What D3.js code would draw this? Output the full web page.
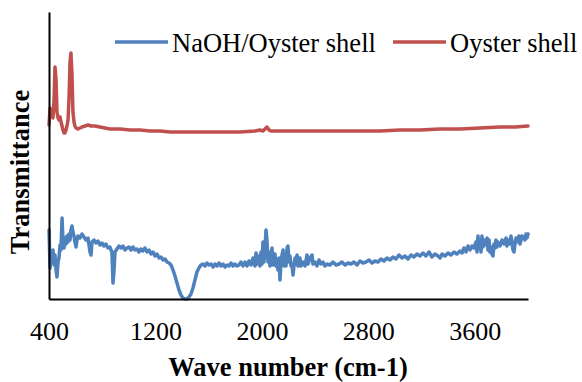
<!DOCTYPE html>
<html>
<head>
<meta charset="utf-8">
<script src="https://cdn.jsdelivr.net/npm/d3@7"></script>
<style>
  body { margin: 0; background: #fff; }
  text { font-family: "Times New Roman", "Liberation Serif", serif; fill: #000; }
</style>
</head>
<body>
<svg id="chart" width="582" height="382"></svg>
<script>
// FTIR spectra, wave number (cm-1) vs transmittance (arbitrary units)
const xTicks = [400, 1200, 2000, 2800, 3600];
const seriesNames = ['NaOH/Oyster shell', 'Oyster shell'];
const seriesColors = ['#4F81BD', '#C0504D'];

const blueWave = [400, 408, 415, 423, 430, 438, 445, 453, 460, 468, 475, 483, 490, 498, 505, 513, 520, 528, 535, 543,
  550, 558, 565, 573, 580, 588, 595, 603, 610, 618, 633, 648, 663, 678, 693, 708, 716, 723, 738, 753,
  768, 783, 798, 813, 828, 843, 858, 866, 873, 881, 889, 896, 911, 926, 941, 956, 971, 986, 1001, 1016,
  1031, 1046, 1061, 1076, 1091, 1106, 1121, 1137, 1152, 1167, 1182, 1197, 1212, 1227, 1242, 1257, 1272, 1287, 1302, 1317,
  1332, 1347, 1362, 1377, 1392, 1407, 1422, 1437, 1452, 1467, 1482, 1497, 1512, 1527, 1542, 1557, 1572, 1587, 1602, 1618,
  1633, 1648, 1663, 1678, 1693, 1708, 1723, 1738, 1753, 1768, 1783, 1798, 1813, 1828, 1843, 1858, 1873, 1888, 1903, 1918,
  1933, 1948, 1956, 1963, 1978, 1986, 1993, 2001, 2008, 2016, 2023, 2031, 2038, 2046, 2053, 2061, 2068, 2076, 2083, 2098,
  2106, 2113, 2121, 2128, 2136, 2143, 2151, 2159, 2166, 2174, 2181, 2189, 2196, 2204, 2211, 2219, 2226, 2234, 2241, 2249,
  2256, 2264, 2271, 2286, 2294, 2309, 2324, 2339, 2347, 2362, 2377, 2384, 2399, 2414, 2429, 2444, 2459, 2474, 2489, 2512,
  2534, 2557, 2580, 2602, 2625, 2647, 2670, 2692, 2715, 2737, 2760, 2782, 2805, 2828, 2850, 2873, 2895, 2918, 2940, 2963,
  2985, 3008, 3030, 3053, 3076, 3098, 3121, 3143, 3166, 3188, 3211, 3233, 3256, 3278, 3301, 3324, 3339, 3354, 3376, 3399,
  3421, 3444, 3466, 3489, 3504, 3519, 3534, 3549, 3564, 3579, 3594, 3609, 3617, 3624, 3632, 3639, 3647, 3654, 3662, 3669,
  3684, 3692, 3699, 3707, 3714, 3722, 3729, 3737, 3744, 3752, 3759, 3767, 3774, 3790, 3805, 3820, 3835, 3842, 3850, 3865,
  3872, 3880, 3887, 3895, 3902, 3910, 3925, 3932, 3940, 3955, 3970, 3977, 3985, 3992, 4000];
const blueT = [34.5, 15.5, 20.5, 18.5, 24.5, 17, 22, 14.5, 11, 18.5, 20.5, 27, 24.5, 40.5, 29.5, 25.5, 30.5, 27.5, 31.5, 28.5,
  32.5, 29.5, 34.5, 36.5, 33.5, 31.5, 28.5, 26, 29.5, 31.5, 30.5, 32.5, 31, 29.5, 30.5, 23.5, 22, 28.5, 29.5, 28,
  29, 27, 28, 26.5, 27.5, 25.5, 26, 24.5, 23.5, 8, 14.5, 23.5, 25, 26.5, 25.5, 26.5, 24.5, 25.5, 26, 24.5,
  26, 24.5, 25, 23.5, 25, 24, 25.5, 23.5, 24.5, 22.5, 23.5, 21.5, 22.5, 20.5, 21, 19.5, 20, 18.5, 18, 17,
  14.5, 11.5, 8, 4.5, 2, 0.5, 0, 0, 1, 2.5, 5.5, 9.5, 13.5, 15.5, 17, 17.5, 16.5, 18, 17, 17.5,
  16, 17.5, 16.5, 18, 16.5, 17.5, 16, 17, 16.5, 18, 16.5, 17.5, 16.5, 17, 18.5, 16.5, 18.5, 16.5, 19, 17,
  20.5, 16.5, 23, 17.5, 21.5, 16.5, 23.5, 17.5, 28.5, 18.5, 25.5, 34.5, 29.5, 18.5, 23.5, 16.5, 20.5, 25.5, 17, 22.5,
  16.5, 18.5, 14.5, 20.5, 9.5, 18.5, 22, 24.5, 16.5, 20.5, 16.5, 25.5, 26.5, 18.5, 21.5, 16.5, 17.5, 12, 16.5, 20.5,
  17.5, 22, 16.5, 20.5, 16.5, 18.5, 16.5, 22, 17.5, 20.5, 22, 17.5, 18.5, 16.5, 19.5, 17.5, 18.5, 16.5, 17.5, 17,
  18.5, 17, 17.5, 18.5, 17, 18, 17.5, 18.5, 17, 19, 18, 18.5, 19.5, 18, 19, 18.5, 20, 19, 20.5, 19.5,
  21, 20, 22, 20.5, 21.5, 20, 22, 21, 22.5, 21.5, 23, 21.5, 23.5, 21, 22.5, 21.5, 20.5, 22.5, 21.5, 23,
  22, 23.5, 22.5, 24, 23, 25.5, 23.5, 26.5, 24.5, 26.5, 25.5, 28.5, 23.5, 31.5, 25.5, 29.5, 23.5, 31.5, 26, 29.5,
  27, 30.5, 24.5, 29.5, 23.5, 26, 22.5, 21.5, 27.5, 25.5, 29.5, 26, 28.5, 26.5, 29.5, 27.5, 30.5, 26.5, 29.5, 27.5,
  31.5, 28.5, 24.5, 23.5, 27.5, 30.5, 28.5, 31.5, 27.5, 31.5, 30.5, 29.5, 32.5, 30.5, 32.5, 33];

const redWave = [400, 408, 415, 423, 430, 438, 445, 453, 460, 468, 475, 483, 490, 498, 505, 513, 520, 528, 535, 543,
  550, 558, 565, 573, 580, 588, 595, 603, 618, 633, 648, 671, 693, 716, 746, 783, 821, 858, 934, 1009,
  1084, 1159, 1234, 1309, 1385, 1535, 1685, 1836, 1948, 1986, 2008, 2023, 2038, 2053, 2068, 2136, 2286, 2437, 2587, 2737,
  2888, 3038, 3188, 3339, 3489, 3639, 3790, 3902, 4000];
const redT = [87, 95.5, 91.5, 93.5, 90.5, 99.5, 116, 109.5, 93.5, 90.5, 89.5, 91, 88.5, 86.5, 84.5, 83, 83, 84.5, 86.5, 89.5,
  99.5, 118.5, 123, 112, 93.5, 88.5, 86.5, 85.5, 85, 85.5, 86, 86.5, 87, 86.5, 86.5, 86, 85.5, 85, 85, 84.5,
  84.5, 84, 84, 83.5, 83.5, 83.5, 83.5, 83.5, 84, 84.5, 84, 85, 86, 84.5, 84, 84, 84, 84, 84, 84,
  84, 84.5, 84.5, 85, 85, 85.5, 86, 86, 86.5];

const svg = d3.select('#chart');

const x = d3.scaleLinear().domain([400, 4000]).range([49, 528]);
const y = d3.scaleLinear().domain([0, 143.5]).range([299, 12]);

// lines
const line = d3.line()
  .x(d => x(d[0]))
  .y(d => y(d[1]));

const blueData = blueWave.map((w, i) => [w, blueT[i]]);
const redData = redWave.map((w, i) => [w, redT[i]]);

[blueData, redData].forEach((data, i) => {
  svg.append('path')
    .datum(data)
    .attr('fill', 'none')
    .attr('stroke', seriesColors[i])
    .attr('stroke-width', 3.5)
    .attr('stroke-linejoin', 'round')
    .attr('stroke-linecap', 'round')
    .attr('d', line);
});

// axes
const xAxis = svg.append('g')
  .attr('transform', 'translate(0,299)')
  .call(d3.axisBottom(x).tickValues(xTicks).tickSize(0).tickSizeOuter(0).tickFormat(d3.format('d')));
xAxis.select('.domain').attr('stroke', '#000').attr('stroke-width', 2);
xAxis.selectAll('text')
  .attr('y', 41)
  .attr('dy', null)
  .style('font-size', '26px')
  .style('font-family', '"Times New Roman", "Liberation Serif", serif')
  .attr('fill', '#000');

const yAxis = svg.append('g')
  .attr('transform', 'translate(49,0)')
  .call(d3.axisLeft(y).ticks(0).tickSize(0).tickSizeOuter(0));
yAxis.select('.domain').attr('stroke', '#000').attr('stroke-width', 2);

// axis titles
svg.append('text')
  .attr('x', 288)
  .attr('y', 376)
  .attr('text-anchor', 'middle')
  .style('font-size', '26.5px')
  .style('font-weight', 'bold')
  .text('Wave number (cm-1)');

svg.append('text')
  .attr('transform', 'translate(29,172) rotate(-90)')
  .attr('text-anchor', 'middle')
  .style('font-size', '26.5px')
  .style('font-weight', 'bold')
  .text('Transmittance');

// legend
const legendX = [115, 393];
seriesNames.forEach((name, i) => {
  svg.append('line')
    .attr('x1', legendX[i]).attr('x2', legendX[i] + 53)
    .attr('y1', 42).attr('y2', 42)
    .attr('stroke', seriesColors[i])
    .attr('stroke-width', 3.5);
  svg.append('text')
    .attr('x', legendX[i] + 57)
    .attr('y', 52)
    .style('font-size', '26.5px')
    .text(name);
});
</script>
</body>
</html>
